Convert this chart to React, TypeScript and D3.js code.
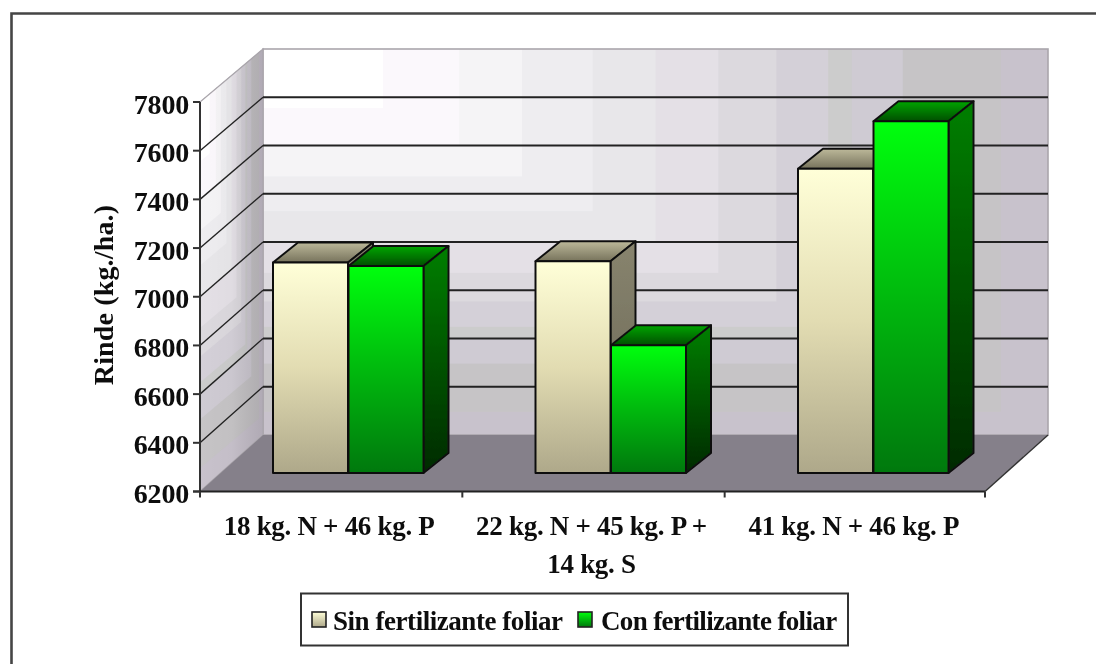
import React from "react";
import * as d3 from "d3";

const categories = [["18 kg. N + 46 kg. P"], ["22 kg. N + 45 kg. P +", "14 kg. S"], ["41 kg. N + 46 kg. P"]];
const sinFoliar = [7065, 7070, 7450];
const conFoliar = [7050, 6725, 7645];
const ticks = [6200, 6400, 6600, 6800, 7000, 7200, 7400, 7600, 7800];
const seriesNames = ["Sin fertilizante foliar", "Con fertilizante foliar"];

const W = 1096, H = 664;
const FX0 = 200, FX1 = 985, FY0 = 491.5, FY1 = 102;
const BX0 = 263, BX1 = 1048, BY0 = 435, BY1 = 49;
const yFront = d3.scaleLinear().domain([6200, 7800]).range([FY0, FY1]);
const yBack = d3.scaleLinear().domain([6200, 7800]).range([BY0, BY1]);
const yBar = d3.scaleLinear().domain([6200, 7800]).range([473, 473 - (FY0 - FY1)]);
const xCat = d3.scaleBand<number>().domain([0, 1, 2]).range([FX0, 987]);
const BAR_W = 75, DX = 25, DY = 20;
const font = "'Liberation Serif','Times New Roman',serif";

const pts = (p: number[][]) => p.map((q) => q.join(",")).join(" ");

// "from corner" wall shading: nested blocks growing out of the top-left corner
const wallBands: [number, string][] = [
  [1, "#c8c2cc"], [0.94, "#c6c4c6"], [0.815, "#cfcbd3"], [0.75, "#cccccc"], [0.72, "#d4d0d8"],
  [0.654, "#dcd9de"], [0.58, "#e4e0e6"], [0.5, "#e8e7ea"], [0.42, "#eeedf0"], [0.33, "#f5f4f6"],
  [0.25, "#fbf8fc"], [0.153, "#ffffff"],
];

function Bar({ x, v, kind }: { x: number; v: number; kind: "cream" | "green" }) {
  const top = yBar(v), bot = yBar(6200), r = x + BAR_W;
  return (
    <g stroke="#111" strokeWidth={2} strokeLinejoin="round">
      <polygon points={pts([[x, top], [r, top], [r + DX, top - DY], [x + DX, top - DY]])} fill={`url(#${kind}Top)`} />
      <polygon points={pts([[r, top], [r + DX, top - DY], [r + DX, bot - DY], [r, bot]])} fill={`url(#${kind}Side)`} />
      <rect x={x} y={top} width={BAR_W} height={bot - top} fill={`url(#${kind}Front)`} />
    </g>
  );
}

export default function App() {
  const textStyle = { fontFamily: font, fontWeight: 700, fill: "#111" } as const;
  const groupX = (i: number) => [273, 535.5, 798][i];
  const ww = BX1 - BX0, wh = BY0 - BY1;
  const sw = BX0 - FX0, sd = FY1 - BY1, sh = FY0 - FY1;
  return (
    <svg width={W} height={H} viewBox={`0 0 ${W} ${H}`} style={{ position: "absolute", left: 0, top: 0, background: "#fff" }}>
      <defs>
        <filter id="soft" x="-2%" y="-2%" width="104%" height="104%">
          <feGaussianBlur stdDeviation="0.55" />
        </filter>
        <linearGradient id="sideShade" x1="0" y1="0" x2="1" y2="0">
          <stop offset="0" stopColor="#000" stopOpacity="0" />
          <stop offset="0.5" stopColor="#000" stopOpacity="0.02" />
          <stop offset="1" stopColor="#201828" stopOpacity="0.14" />
        </linearGradient>
        <linearGradient id="creamFront" x1="0" y1="0" x2="0" y2="1">
          <stop offset="0" stopColor="#ffffd8" /><stop offset="0.5" stopColor="#e2dcb2" /><stop offset="1" stopColor="#aea88a" />
        </linearGradient>
        <linearGradient id="creamTop" x1="0" y1="0" x2="0" y2="1">
          <stop offset="0" stopColor="#bdb99a" /><stop offset="1" stopColor="#77735c" />
        </linearGradient>
        <linearGradient id="creamSide" x1="0" y1="0" x2="0" y2="1">
          <stop offset="0" stopColor="#88846e" /><stop offset="1" stopColor="#656252" />
        </linearGradient>
        <linearGradient id="greenFront" x1="0" y1="0" x2="0" y2="1">
          <stop offset="0" stopColor="#00ff10" /><stop offset="0.45" stopColor="#00c010" /><stop offset="1" stopColor="#06780c" />
        </linearGradient>
        <linearGradient id="greenTop" x1="0" y1="0" x2="0" y2="1">
          <stop offset="0" stopColor="#00a500" /><stop offset="1" stopColor="#004f00" />
        </linearGradient>
        <linearGradient id="greenSide" x1="0" y1="0" x2="0" y2="1">
          <stop offset="0" stopColor="#007f00" /><stop offset="1" stopColor="#002a05" />
        </linearGradient>
        <linearGradient id="legCream" x1="0" y1="0" x2="0" y2="1">
          <stop offset="0" stopColor="#ffffd8" /><stop offset="1" stopColor="#aea88a" />
        </linearGradient>
        <linearGradient id="legGreen" x1="0" y1="0" x2="0" y2="1">
          <stop offset="0" stopColor="#00ff10" /><stop offset="1" stopColor="#06780c" />
        </linearGradient>
      </defs>
      <g filter="url(#soft)">
        <path d={`M11.5 ${H} V13.5 H${W}`} fill="none" stroke="#444" strokeWidth={2.6} />

        {/* back wall */}
        {wallBands.map(([f, c]) => (
          <rect key={f} x={BX0} y={BY1} width={ww * f} height={wh * f} fill={c} />
        ))}
        <rect x={BX0} y={BY1} width={ww} height={wh} fill="none" stroke="#aaa6ac" strokeWidth={1.6} />

        {/* side wall */}
        {wallBands.map(([f, c]) => (
          <polygon key={f} fill={c} points={pts([
            [FX0, FY1], [FX0 + sw * f, FY1 - sd * f], [FX0 + sw * f, FY1 - sd * f + sh * f], [FX0, FY1 + sh * f],
          ])} />
        ))}
        <polygon points={pts([[FX0, FY1], [BX0, BY1], [BX0, BY0], [FX0, FY0]])} fill="url(#sideShade)" stroke="#aaa6ac" strokeWidth={1.2} />

        {/* floor */}
        <polygon points={pts([[FX0, FY0], [BX0, BY0], [BX1, BY0], [FX1, FY0]])} fill="#85808a" />

        {/* gridlines */}
        {ticks.slice(1, -1).map((t) => (
          <g key={t} fill="none" stroke="#222">
            <line x1={BX0} x2={BX1} y1={yBack(t)} y2={yBack(t)} strokeWidth={2} />
            <line x1={FX0} x2={BX0} y1={yFront(t)} y2={yBack(t)} strokeWidth={1.4} />
          </g>
        ))}
        <line x1={FX1} x2={BX1} y1={FY0} y2={BY0} stroke="#333" strokeWidth={1.4} />

        {/* axes */}
        <line x1={FX0} x2={FX0} y1={FY1} y2={FY0 + 3} stroke="#333" strokeWidth={2} />
        <line x1={FX0 - 7} x2={FX1} y1={FY0} y2={FY0} stroke="#222" strokeWidth={2} />
        {ticks.map((t) => (
          <g key={t}>
            <line x1={FX0 - 7} x2={FX0} y1={yFront(t)} y2={yFront(t)} stroke="#333" strokeWidth={2} />
            <text x={189} y={yFront(t) + 11.5} textAnchor="end" fontSize={28} letterSpacing={-0.2} style={textStyle}>{t}</text>
          </g>
        ))}
        {[0, 1, 2, 3].map((i) => {
          const x = i === 3 ? FX1 : xCat(i)!;
          return <line key={i} x1={x} x2={x} y1={FY0} y2={FY0 + 6} stroke="#333" strokeWidth={2} />;
        })}

        {/* bars */}
        {categories.map((_, i) => (
          <g key={i}>
            <Bar x={groupX(i)} v={sinFoliar[i]} kind="cream" />
            <Bar x={groupX(i) + BAR_W + 0.5} v={conFoliar[i]} kind="green" />
          </g>
        ))}

        {/* category labels */}
        {categories.map((lines, i) => lines.map((l, j) => (
          <text key={l} x={xCat(i)! + xCat.bandwidth() / 2 - 2} y={535 + j * 38} textAnchor="middle" fontSize={27} letterSpacing={-0.3} style={textStyle}>{l}</text>
        )))}

        <text transform="translate(113,295) rotate(-90)" textAnchor="middle" fontSize={28} letterSpacing={0.15} style={textStyle}>Rinde (kg./ha.)</text>

        {/* legend */}
        <rect x={301} y={593.5} width={547} height={52} fill="#fff" stroke="#333" strokeWidth={2} />
        <rect x={312} y={612} width={14} height={15} fill="url(#legCream)" stroke="#222" strokeWidth={1.6} />
        <text x={333} y={630} fontSize={27} letterSpacing={-0.45} style={textStyle}>{seriesNames[0]}</text>
        <rect x={578} y={612} width={14} height={15} fill="url(#legGreen)" stroke="#222" strokeWidth={1.6} />
        <text x={601} y={630} fontSize={27} letterSpacing={-0.65} style={textStyle}>{seriesNames[1]}</text>
      </g>
    </svg>
  );
}
